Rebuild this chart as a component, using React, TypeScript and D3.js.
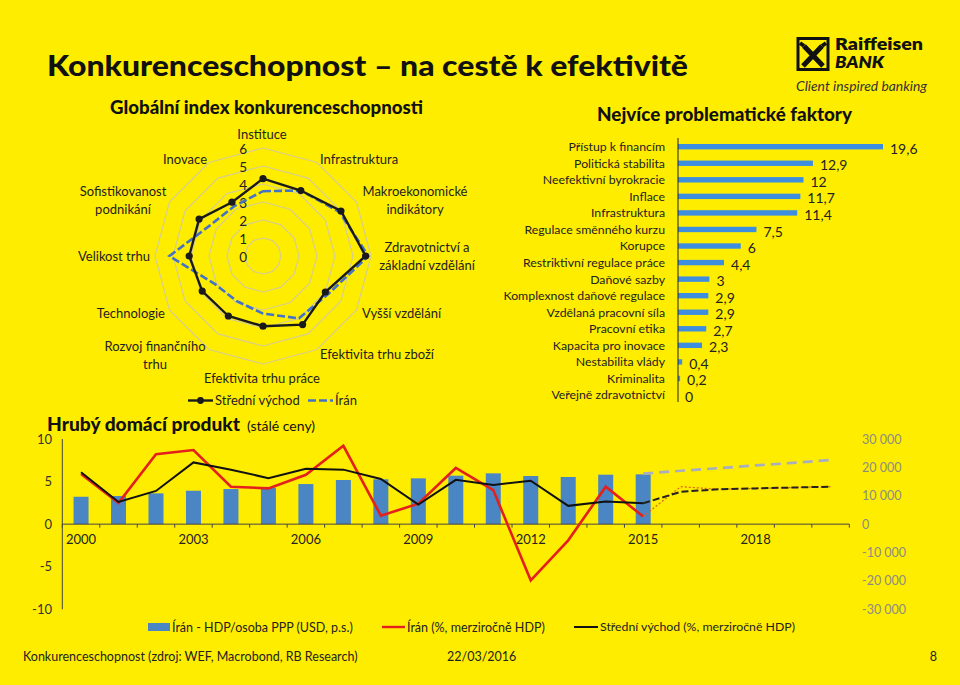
import React from "react";
import * as d3 from "d3";

// ---------- DATA ----------
const radarAxes: string[][] = [
  ["Instituce"],
  ["Infrastruktura"],
  ["Makroekonomické", "indikátory"],
  ["Zdravotnictví a", "základní vzdělání"],
  ["Vyšší vzdělání"],
  ["Efektivita trhu zboží"],
  ["Efektivita trhu práce"],
  ["Rozvoj finančního", "trhu"],
  ["Technologie"],
  ["Velikost trhu"],
  ["Sofistikovanost", "podnikání"],
  ["Inovace"],
];
const radarMidEast = [4.3, 4.2, 5.0, 5.7, 4.0, 4.4, 3.9, 3.85, 3.9, 4.1, 4.1, 3.45];
const radarIran = [3.6, 4.2, 4.9, 5.85, 4.2, 4.0, 3.2, 2.9, 3.1, 5.2, 3.4, 3.2];
const radarTicks = [0, 1, 2, 3, 4, 5, 6];

const factorNames = [
  "Přístup k financím",
  "Politická stabilita",
  "Neefektivní byrokracie",
  "Inflace",
  "Infrastruktura",
  "Regulace směnného kurzu",
  "Korupce",
  "Restriktivní regulace práce",
  "Daňové sazby",
  "Komplexnost daňové regulace",
  "Vzdělaná pracovní síla",
  "Pracovní etika",
  "Kapacita pro inovace",
  "Nestabilita vlády",
  "Kriminalita",
  "Veřejně zdravotnictví",
];
const factorValues = [19.6, 12.9, 12, 11.7, 11.4, 7.5, 6, 4.4, 3, 2.9, 2.9, 2.7, 2.3, 0.4, 0.2, 0];

const years = [
  "2000", "2001", "2002", "2003", "2004", "2005", "2006", "2007", "2008", "2009", "2010",
  "2011", "2012", "2013", "2014", "2015", "2016", "2017", "2018", "2019", "2020",
];
const yearLabels = ["2000", "2003", "2006", "2009", "2012", "2015", "2018"];
const histYears = years.slice(0, 16);
const forecastYears = years.slice(15);
const iranGdpPerCapita = [9650, 9900, 10850, 11770, 12370, 12840, 14130, 15550, 15790, 16140, 17080, 17900, 16960, 16610, 17430, 17550];
const iranGdpPerCapitaForecast = [17800, 18800, 19700, 20700, 21600, 22600];
const iranGrowth = [5.9, 2.5, 8.2, 8.7, 4.4, 4.2, 5.8, 9.2, 1.0, 2.4, 6.6, 4.0, -6.6, -1.9, 4.4, 0.9];
const iranGrowthForecast = [0.9, 4.4, 4.1, 4.2, 4.3, 4.4];
const meGrowth = [6.1, 2.6, 3.9, 7.25, 6.4, 5.4, 6.5, 6.4, 5.3, 2.3, 5.2, 4.6, 5.1, 2.15, 2.65, 2.45];
const meGrowthForecast = [2.45, 3.8, 4.1, 4.2, 4.3, 4.4];
const leftTicks = [10, 5, 0, -5, -10];
const rightTicks = [30000, 20000, 10000, 0, -10000, -20000, -30000];

// ---------- LAYOUT / STYLE ----------
const FONT = "Lato, 'Noto Sans', sans-serif";
const BG = "#FFED00";
const radarLabelLayout = [
  { x: 262, y: 134, a: "middle" },
  { x: 320, y: 159, a: "start" },
  { x: 415, y: 191, a: "middle" },
  { x: 427, y: 247, a: "middle" },
  { x: 362, y: 313, a: "start" },
  { x: 320, y: 354, a: "start" },
  { x: 262, y: 378, a: "middle" },
  { x: 155, y: 346, a: "middle" },
  { x: 165, y: 313, a: "end" },
  { x: 150, y: 256, a: "end" },
  { x: 123, y: 191, a: "middle" },
  { x: 207, y: 159, a: "end" },
];

function fmtComma(v: number) {
  return String(v).replace(".", ",");
}
function fmtThousands(v: number) {
  const a = Math.abs(v);
  const s = a >= 1000 ? `${Math.floor(a / 1000)} ${String(a % 1000).padStart(3, "0")}` : String(a);
  return (v < 0 ? "-" : "") + s;
}

export default function App() {
  // Radar
  const cx = 263, cy = 256;
  const rScale = d3.scaleLinear().domain([0, 6]).range([0, 108]);
  const n = radarAxes.length;
  const ang = (i: number) => (i * 2 * Math.PI) / n;
  const radial = d3
    .lineRadial<number>()
    .angle((_d, i) => ang(i))
    .radius((d) => rScale(d))
    .curve(d3.curveLinearClosed);
  const pt = (v: number, i: number) => [cx + rScale(v) * Math.sin(ang(i)), cy - rScale(v) * Math.cos(ang(i))];

  // Factor bars
  const fx = d3.scaleLinear().domain([0, 19.6]).range([678, 883]);
  const fy = d3.scalePoint<string>().domain(factorNames).range([146.7, 395]);

  // GDP chart
  const xb = d3.scaleBand<string>().domain(years).range([62.3, 849.3]).paddingInner(0.6).paddingOuter(0.3);
  const xc = (y: string) => (xb(y) as number) + xb.bandwidth() / 2;
  const step = xb.step();
  const yL = d3.scaleLinear().domain([-10, 10]).range([609.3, 439]);
  const yR = d3.scaleLinear().domain([-30000, 30000]).range([609.3, 439]);
  const lineL = (ys: string[]) =>
    d3.line<number>().x((_d, i) => xc(ys[i])).y((d) => yL(d));
  const lineR = (ys: string[]) =>
    d3.line<number>().x((_d, i) => xc(ys[i])).y((d) => yR(d));
  const bandEdges = d3.range(years.length + 1).map((i) => 62.3 + i * step);

  return (
    <svg
      width={960}
      height={685}
      style={{ position: "absolute", left: 0, top: 0, fontFamily: FONT }}
    >
      <rect x={0} y={0} width={960} height={685} fill={BG} />

      {/* Main title */}
      <text x={47} y={76} fontSize={29} fontWeight={900} fill="#111" textLength={641} lengthAdjust="spacingAndGlyphs">
        Konkurenceschopnost – na cestě k efektivitě
      </text>

      {/* Logo */}
      <g>
        <rect x={798} y={38.5} width={30} height={31} fill="none" stroke="#111" strokeWidth={3} />
        <path d="M803,66 L822,46 M823,66 L804,46" stroke="#111" strokeWidth={5} fill="none" />
        <path d="M822,46 L826,43 M804,46 L800,43" stroke="#111" strokeWidth={4} fill="none" />
        <text x={835} y={50} fontSize={16} fontWeight={800} fill="#111" textLength={88} lengthAdjust="spacingAndGlyphs">Raiffeisen</text>
        <text x={835} y={68} fontSize={16} fontWeight={800} fontStyle="italic" fill="#111" textLength={49} lengthAdjust="spacingAndGlyphs">BANK</text>
        <text x={796} y={91} fontSize={13.5} fontStyle="italic" fill="#333" textLength={131} lengthAdjust="spacingAndGlyphs">Client inspired banking</text>
      </g>

      {/* Radar */}
      <text x={110} y={114} fontSize={18} fontWeight={900} fill="#111" textLength={313} lengthAdjust="spacingAndGlyphs">
        Globální index konkurenceschopnosti
      </text>
      {radarTicks.slice(1).map((t) => (
        <path
          key={t}
          d={radial(new Array(n).fill(t)) as string}
          transform={`translate(${cx},${cy})`}
          fill="none"
          stroke="#d6cd90"
          strokeWidth={1.2}
        />
      ))}
      {radarTicks.map((t) => (
        <text key={t} x={247} y={cy - rScale(t) + 1} dy="0.36em" fontSize={13.5} textAnchor="end" fill="#222">
          {t}
        </text>
      ))}
      <path
        d={radial(radarIran) as string}
        transform={`translate(${cx},${cy})`}
        fill="none"
        stroke="#4472c4"
        strokeWidth={2.6}
        strokeDasharray="8,3"
      />
      <path
        d={radial(radarMidEast) as string}
        transform={`translate(${cx},${cy})`}
        fill="none"
        stroke="#1a1a1a"
        strokeWidth={2.4}
      />
      {radarMidEast.map((v, i) => {
        const [x, y] = pt(v, i);
        return <circle key={i} cx={x} cy={y} r={3.6} fill="#1a1a1a" />;
      })}
      {radarAxes.map((lines, i) => {
        const L = radarLabelLayout[i];
        return (
          <text key={i} x={L.x} y={L.y} fontSize={13} textAnchor={L.a as any} fill="#222">
            {lines.map((s, j) => (
              <tspan key={j} x={L.x} dy={j === 0 ? "0.36em" : 18}>
                {s}
              </tspan>
            ))}
          </text>
        );
      })}
      {/* Radar legend */}
      <line x1={188} x2={213} y1={400.5} y2={400.5} stroke="#1a1a1a" strokeWidth={2.4} />
      <circle cx={200.5} cy={400.5} r={3.4} fill="#1a1a1a" />
      <text x={215} y={400.5} dy="0.36em" fontSize={13} fill="#222">Střední východ</text>
      <line x1={308} x2={333} y1={400.5} y2={400.5} stroke="#4472c4" strokeWidth={2.6} strokeDasharray="8,3" />
      <text x={335} y={400.5} dy="0.36em" fontSize={13} fill="#222">Írán</text>

      {/* Factors bar chart */}
      <text x={597} y={121} fontSize={18} fontWeight={900} fill="#111" textLength={255} lengthAdjust="spacingAndGlyphs">
        Nejvíce problematické faktory
      </text>
      {factorNames.map((name, i) => (
        <g key={name}>
          <rect
            x={fx(0)}
            y={(fy(name) as number) - 2.7}
            width={fx(factorValues[i]) - fx(0)}
            height={5.4}
            fill="#3e8ee0"
          />
          <text x={665} y={fy(name)} dy="0.36em" fontSize={12.3} textAnchor="end" fill="#222">
            {name}
          </text>
          <text x={fx(factorValues[i]) + 7} y={(fy(name) as number) + 2} dy="0.36em" fontSize={14} fill="#222">
            {fmtComma(factorValues[i])}
          </text>
        </g>
      ))}
      <line x1={fx(0)} x2={fx(0)} y1={138} y2={402} stroke="#222" strokeWidth={1} />

      {/* GDP chart */}
      <text x={47} y={431} fontSize={18} fontWeight={900} fill="#111" textLength={193} lengthAdjust="spacingAndGlyphs">
        Hrubý domácí produkt
      </text>
      <text x={247} y={431} fontSize={14} fill="#111">(stálé ceny)</text>
      {histYears.map((y, i) => (
        <rect
          key={y}
          x={xb(y)}
          y={yR(iranGdpPerCapita[i])}
          width={xb.bandwidth()}
          height={yR(0) - yR(iranGdpPerCapita[i])}
          fill="#4a85c4"
        />
      ))}
      <path
        d={lineR(forecastYears)(iranGdpPerCapitaForecast) as string}
        fill="none"
        stroke="#a9aebd"
        strokeWidth={2.6}
        strokeDasharray="10,6"
      />
      {/* axes */}
      <line x1={62.3} x2={62.3} y1={439} y2={609.3} stroke="#444" strokeWidth={1} />
      <line x1={62.3} x2={849.3} y1={yL(0)} y2={yL(0)} stroke="#444" strokeWidth={1} />
      {bandEdges.map((x, i) => (
        <line key={i} x1={x} x2={x} y1={yL(0)} y2={yL(0) + 3.5} stroke="#444" strokeWidth={1} />
      ))}
      {leftTicks.map((t) => (
        <text key={t} x={52} y={yL(t)} dy="0.36em" fontSize={13} textAnchor="end" fill="#333">
          {t}
        </text>
      ))}
      {rightTicks.map((t) => (
        <text key={t} x={862} y={yR(t)} dy="0.36em" fontSize={12.5} fill="#8c8c84">
          {fmtThousands(t)}
        </text>
      ))}
      {yearLabels.map((y) => (
        <text key={y} x={xc(y)} y={539.5} dy="0.36em" fontSize={13} textAnchor="middle" fill="#222">
          {y}
        </text>
      ))}
      {/* lines */}
      <path d={lineL(histYears)(iranGrowth) as string} fill="none" stroke="#e3201b" strokeWidth={2.6} />
      <path d={lineL(histYears)(meGrowth) as string} fill="none" stroke="#111" strokeWidth={2} />
      <path
        d={lineL(forecastYears)(iranGrowthForecast) as string}
        fill="none"
        stroke="#e0601b"
        strokeWidth={1.2}
        strokeDasharray="2,2"
      />
      <path
        d={lineL(forecastYears)(meGrowthForecast) as string}
        fill="none"
        stroke="#222"
        strokeWidth={2}
        strokeDasharray="7,3"
      />

      {/* GDP legend */}
      <rect x={148} y={623} width={22} height={8} fill="#4a85c4" />
      <text x={172} y={627} dy="0.36em" fontSize={12.5} fill="#222">Írán - HDP/osoba PPP (USD, p.s.)</text>
      <line x1={382} x2={405} y1={627} y2={627} stroke="#e3201b" strokeWidth={2.4} />
      <text x={407} y={627} dy="0.36em" fontSize={12.5} fill="#222">Írán (%, merziročně HDP)</text>
      <line x1={574} x2={598} y1={627} y2={627} stroke="#111" strokeWidth={2} />
      <text x={600} y={627} dy="0.36em" fontSize={12.3} fill="#222">Střední východ (%, merziročně HDP)</text>

      {/* Footer */}
      <text x={23} y={656} dy="0.36em" fontSize={12.5} fill="#222">
        Konkurenceschopnost (zdroj: WEF, Macrobond, RB Research)
      </text>
      <text x={447} y={656} dy="0.36em" fontSize={12.5} fill="#222">22/03/2016</text>
      <text x={937} y={656} dy="0.36em" fontSize={12.5} textAnchor="end" fill="#222">8</text>
    </svg>
  );
}
